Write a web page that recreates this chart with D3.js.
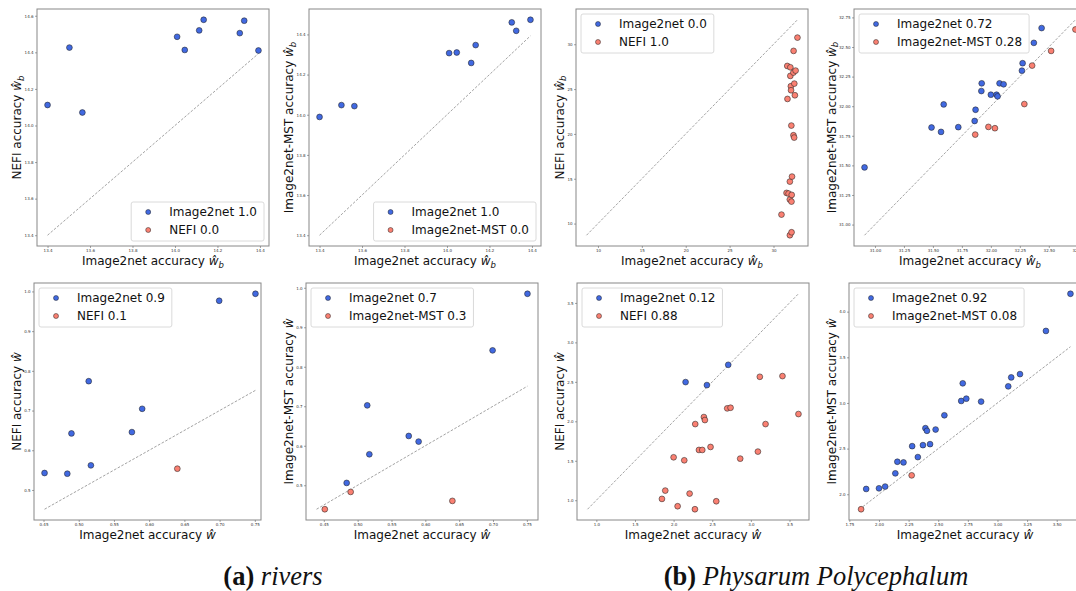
<!DOCTYPE html>
<html><head><meta charset="utf-8">
<script src="https://cdn.jsdelivr.net/npm/d3@7"></script>
<style>body{margin:0;background:#fff} svg{display:block}</style>
</head><body><svg id="c" width="1076" height="591"></svg>
<script>
// ---------------- data ----------------
// (a) rivers, w_b
const riversWbX    = [13.400, 13.503, 13.564, 14.010, 14.046, 14.114, 14.135, 14.305, 14.326, 14.393];
const riversWbNefi = [14.112, 14.426, 14.071, 14.485, 14.413, 14.520, 14.578, 14.505, 14.573, 14.410];
const riversWbMst  = [13.989, 14.048, 14.043, 14.307, 14.310, 14.258, 14.347, 14.460, 14.418, 14.473];
// (a) rivers, w
const riversWX     = [0.4515, 0.4838, 0.4897, 0.5142, 0.5173, 0.5755, 0.5901, 0.6400, 0.6994, 0.7509];
const riversWNefi  = [0.5427, 0.5410, 0.6424, 0.7739, 0.5620, 0.6457, 0.7044, 0.5536, 0.9765, 0.9941];
const riversWMst   = [0.4393, 0.5059, 0.4831, 0.7023, 0.5784, 0.6248, 0.6105, 0.4604, 0.8415, 0.9848];
// (b) Physarum, w_b
const physWbX    = [30.910, 31.488, 31.570, 31.593, 31.719, 31.860, 31.865, 31.868, 31.918, 31.921, 31.979, 32.000, 32.035,
                    32.049, 32.058, 32.075, 32.110, 32.268, 32.274, 32.289, 32.356, 32.371, 32.438, 32.520, 32.730];
const physWbNefi = [11.00, 13.42, 27.58, 23.90, 13.35, 12.68, 14.68, 8.70, 26.47, 27.43, 25.32, 24.87, 20.93,
                    12.45, 9.03, 13.20, 15.24, 26.84, 19.85, 29.26, 19.59, 25.61, 24.31, 27.06, 30.74];
const physWbMst  = [31.483, 31.820, 31.783, 32.015, 31.823, 31.875, 31.760, 31.970, 32.128, 32.193, 31.825, 32.097, 31.814,
                    32.097, 32.083, 32.193, 32.185, 32.300, 32.363, 32.018, 32.343, 32.535, 32.660, 32.467, 32.648];
// (b) Physarum, w
const physWX     = [1.849, 1.892, 2.000, 2.052, 2.138, 2.155, 2.207, 2.276, 2.280, 2.328, 2.371, 2.392, 2.405,
                    2.431, 2.478, 2.552, 2.694, 2.707, 2.737, 2.862, 3.091, 3.116, 3.190, 3.409, 3.616];
const physWNefi  = [1.017, 1.122, 1.544, 0.924, 1.506, 2.497, 1.084, 0.886, 1.965, 1.637, 1.637, 2.054, 2.016,
                    2.459, 1.675, 0.987, 2.164, 2.716, 2.172, 1.527, 1.616, 2.564, 1.965, 2.573, 2.092];
const physWMst   = [1.836, 2.058, 2.065, 2.084, 2.229, 2.356, 2.349, 2.207, 2.527, 2.407, 2.538, 2.724, 2.695,
                    2.549, 2.709, 2.865, 3.022, 3.215, 3.047, 3.015, 3.182, 3.280, 3.316, 3.789, 4.196];

// tick labels
const riversWbXTicks   = ["13.4","13.6","13.8","14.0","14.2","14.4"];
const riversWbNefiTicks= ["13.4","13.6","13.8","14.0","14.2","14.4","14.6"];
const riversWbMstTicks = ["13.4","13.6","13.8","14.0","14.2","14.4"];
const riversWXTicks    = ["0.45","0.50","0.55","0.60","0.65","0.70","0.75"];
const riversWYTicks    = ["0.5","0.6","0.7","0.8","0.9","1.0"];
const physWbXTicksA    = ["10","15","20","25","30"];
const physWbNefiTicks  = ["10","15","20","25","30"];
const physWbXTicksB    = ["31.00","31.25","31.50","31.75","32.00","32.25","32.50","32.75"];
const physWbMstTicks   = ["31.00","31.25","31.50","31.75","32.00","32.25","32.50","32.75"];
const physWXTicksA     = ["1.0","1.5","2.0","2.5","3.0","3.5"];
const physWNefiTicks   = ["1.0","1.5","2.0","2.5","3.0","3.5"];
const physWXTicksB     = ["1.75","2.00","2.25","2.50","2.75","3.00","3.25","3.50"];
const physWMstTicks    = ["2.0","2.5","3.0","3.5","4.0"];

const methodNames = ["Image2net", "NEFI", "Image2net-MST"];
const captions = [["(a)", "rivers"], ["(b)", "Physarum Polycephalum"]];

// ---------------- layout ----------------
const FONT = "'DejaVu Sans', sans-serif";
const BLUE = "#4169E1", RED = "#FA8072";
const W = 232, H = 237;

const panels = [
  {x: riversWbX, y: riversWbNefi, xt: riversWbXTicks, yt: riversWbNefiTicks, other: methodNames[1], sub: true,  left: 37,  top: 9,   leg: "lr", fw: 232},
  {x: riversWbX, y: riversWbMst,  xt: riversWbXTicks, yt: riversWbMstTicks,  other: methodNames[2], sub: true,  left: 309, top: 9,   leg: "lr", fw: 232},
  {x: physWbX,   y: physWbNefi,   xt: physWbXTicksA,  yt: physWbNefiTicks,   other: methodNames[1], sub: true,  left: 576, top: 9,   leg: "ul", fw: 232},
  {x: physWbX,   y: physWbMst,    xt: physWbXTicksB,  yt: physWbMstTicks,    other: methodNames[2], sub: true,  left: 854, top: 9,   leg: "ul", fw: 232},
  {x: riversWX,  y: riversWNefi,  xt: riversWXTicks,  yt: riversWYTicks,     other: methodNames[1], sub: false, left: 34,  top: 283, leg: "ul", fw: 227},
  {x: riversWX,  y: riversWMst,   xt: riversWXTicks,  yt: riversWYTicks,     other: methodNames[2], sub: false, left: 306, top: 283, leg: "ul", fw: 232},
  {x: physWX,    y: physWNefi,    xt: physWXTicksA,   yt: physWNefiTicks,    other: methodNames[1], sub: false, left: 577, top: 283, leg: "ul", fw: 232},
  {x: physWX,    y: physWMst,     xt: physWXTicksB,   yt: physWMstTicks,     other: methodNames[2], sub: false, left: 849, top: 283, leg: "ul", fw: 232}
];

const svg = d3.select("#c");
svg.append("rect").attr("width",1076).attr("height",591).attr("fill","#fff");

function padded(vals){
  const lo = d3.min(vals), hi = d3.max(vals), r = hi - lo;
  return [lo - 0.05*r, hi + 0.05*r];
}
function shareStr(v){
  v = Math.round(v*100)/100;
  return Number.isInteger(v) ? v.toFixed(1) : String(v);
}
function mathLabel(t, prefix, sub){
  t.append("tspan").text(prefix);
  t.append("tspan").attr("font-style","italic").text("ŵ");
  if (sub) t.append("tspan").attr("font-style","italic").attr("font-size",8.5).attr("dy",2.5).text("b");
}

panels.forEach(p => {
  const pts = p.x.map((xv,i) => ({x: xv, y: p.y[i], win: p.y[i] > xv ? 0 : 1}));
  const dLo = Math.min(d3.min(p.x), d3.min(p.y)), dHi = d3.max(p.x);
  const x = d3.scaleLinear().domain(padded(p.x.concat([dLo, dHi]))).range([p.left, p.left + W]);
  const y = d3.scaleLinear().domain(padded(p.y.concat([dLo, dHi]))).range([p.top + H, p.top]);
  const g = svg.append("g");

  // diagonal
  g.append("line").attr("x1", x(dLo)).attr("y1", y(dLo)).attr("x2", x(dHi)).attr("y2", y(dHi))
    .attr("stroke","#8a8a8a").attr("stroke-width",0.8).attr("stroke-dasharray","2.6,1.6");

  // points
  g.selectAll("circle.pt").data(pts).join("circle").attr("class","pt")
    .attr("cx", d => x(d.x)).attr("cy", d => y(d.y)).attr("r", 2.9)
    .attr("fill", d => d.win === 0 ? BLUE : RED).attr("stroke","#222").attr("stroke-width",0.55);

  // frame
  g.append("rect").attr("x", p.left).attr("y", p.top).attr("width", p.fw).attr("height", H)
    .attr("fill","none").attr("stroke","#888").attr("stroke-width",1);

  // axes
  const xa = g.append("g").attr("transform",`translate(0,${p.top + H})`)
    .call(d3.axisBottom(x).tickValues(p.xt.map(Number)).tickFormat((d,i) => p.xt[i]).tickSize(2).tickPadding(1.5));
  const ya = g.append("g").attr("transform",`translate(${p.left},0)`)
    .call(d3.axisLeft(y).tickValues(p.yt.map(Number)).tickFormat((d,i) => p.yt[i]).tickSize(2).tickPadding(1.5));
  [xa, ya].forEach(a => {
    a.select(".domain").remove();
    a.selectAll("line").attr("stroke","#666").attr("stroke-width",0.6);
    a.selectAll("text").attr("font-family", FONT).attr("font-size", 4).attr("fill","#333");
  });

  // axis labels
  const xl = g.append("text").attr("x", p.left + p.fw/2).attr("y", p.top + H + 19)
    .attr("text-anchor","middle").attr("font-family", FONT).attr("font-size", 12).attr("fill","#111");
  mathLabel(xl, methodNames[0] + " accuracy ", p.sub);
  let tw = 0;
  ya.selectAll("text").each(function(){ tw = Math.max(tw, this.getComputedTextLength()); });
  const yx = p.left - tw - 7;
  const yl = g.append("text").attr("transform",`translate(${yx},${p.top + H/2}) rotate(-90)`)
    .attr("text-anchor","middle").attr("font-family", FONT).attr("font-size", 12).attr("fill","#111");
  mathLabel(yl, p.other + " accuracy ", p.sub);

  // legend
  const n = pts.length;
  const shares = [pts.filter(d => d.win === 0).length / n, pts.filter(d => d.win === 1).length / n];
  const labels = [methodNames[0] + " " + shareStr(shares[0]), p.other + " " + shareStr(shares[1])];
  const lg = g.append("g");
  const box = lg.append("rect").attr("rx",2).attr("ry",2).attr("fill","#fff").attr("fill-opacity",0.8)
    .attr("stroke","#d0d0d0").attr("stroke-width",0.8);
  const bh = 39;
  const texts = labels.map((l,i) => lg.append("text").attr("x", 38).attr("y", 10 + 18*i + 4.3)
    .attr("font-family", FONT).attr("font-size", 12).attr("fill","#111").text(l));
  [BLUE, RED].forEach((c,i) => lg.append("circle").attr("cx",17).attr("cy",10 + 18*i).attr("r",2.5)
    .attr("fill",c).attr("stroke","#222").attr("stroke-width",0.5));
  const maxT = d3.max(texts, t => t.node().getComputedTextLength());
  const bw = 38 + maxT + 7;
  box.attr("width", bw).attr("height", bh);
  const lx = p.leg === "lr" ? p.left + p.fw - 5 - bw : p.left + 5;
  const ly = p.leg === "lr" ? p.top + H - 5 - bh : p.top + 5;
  lg.attr("transform", `translate(${lx},${ly})`);
});

// captions
[273, 816].forEach((cx, i) => {
  const t = svg.append("text").attr("x", cx).attr("y", 585).attr("text-anchor","middle")
    .attr("font-family","'Liberation Serif', 'DejaVu Serif', serif").attr("font-size", 26.5).attr("fill","#111");
  t.append("tspan").attr("font-weight","bold").text(captions[i][0] + " ");
  t.append("tspan").attr("font-style","italic").text(captions[i][1]);
});
</script></body></html>
